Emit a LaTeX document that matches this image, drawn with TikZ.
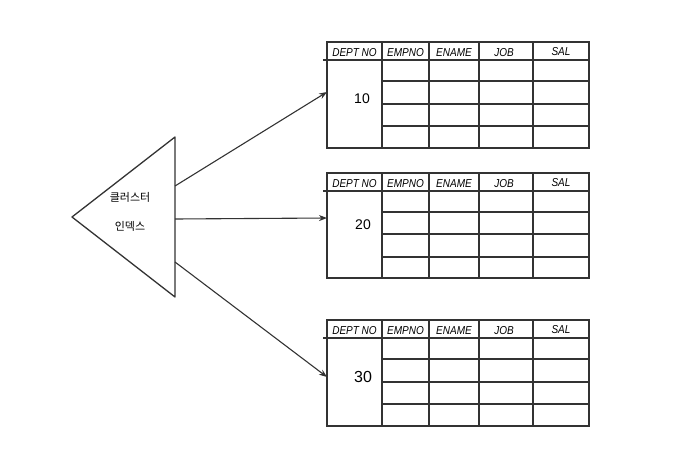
\documentclass[tikz,border=0pt]{standalone}
\usepackage{fontspec}
\setmainfont{Liberation Sans}
\newfontfamily\krfont{Noto Sans CJK KR}
\usetikzlibrary{arrows.meta}
\tikzset{
  ln/.style={draw=black!80, line width=1.3pt},
  hdr/.style={font=\fontsize{10}{10}\selectfont\itshape, inner sep=0pt, anchor=base, yscale=1.15},
  num/.style={font=\fontsize{14}{14}\selectfont, inner sep=0pt},
  kr/.style={font=\krfont\fontsize{11}{12}\selectfont, inner sep=0pt},
  arr/.style={draw=black!80, line width=1.1pt, -{Stealth[length=8pt,width=6pt]}}
}
\begin{document}
\begin{tikzpicture}[x=1pt,y=-1pt]
  \useasboundingbox (0,0) rectangle (688,450);
  % triangle
  \coordinate (tA) at (72,217);
  \coordinate (tT) at (175,137);
  \coordinate (tB) at (175,297);
  \draw[ln, line join=round] (tA) -- (tT) -- (tB) -- cycle;
  \node[kr] (k1) at (130,197) {클러스터};
  \node[kr] (k2) at (130,226) {인덱스};
  % table 1
  \begin{scope}
    \draw[ln] (327,42) rectangle (589,148);
    \draw[ln] (323,60) -- (589,60);
    \foreach \yy in {81,104,126} \draw[ln] (382,\yy) -- (589,\yy);
    \foreach \xx in {382,429,479,533} \draw[ln] (\xx,42) -- (\xx,148);
    \node[hdr] (h1a) at (354.5,56) {DEPT NO};
    \node[hdr] (h1b) at (405.5,56) {EMPNO};
    \node[hdr] (h1c) at (454,56) {ENAME};
    \node[hdr] (h1d) at (504,56) {JOB};
    \node[hdr] (h1e) at (561,55) {SAL};
    \node[num] (n10) at (362,99) {10};
    \coordinate (in1) at (327,92);
  \end{scope}
  % table 2
  \begin{scope}
    \draw[ln] (327,173) rectangle (589,278);
    \draw[ln] (323,191) -- (589,191);
    \foreach \yy in {212,234,257} \draw[ln] (382,\yy) -- (589,\yy);
    \foreach \xx in {382,429,479,533} \draw[ln] (\xx,173) -- (\xx,278);
    \node[hdr] (h2a) at (354.5,187) {DEPT NO};
    \node[hdr] (h2b) at (405.5,187) {EMPNO};
    \node[hdr] (h2c) at (454,187) {ENAME};
    \node[hdr] (h2d) at (504,187) {JOB};
    \node[hdr] (h2e) at (561,186) {SAL};
    \node[num] (n20) at (363,225) {20};
    \coordinate (in2) at (327,218);
  \end{scope}
  % table 3
  \begin{scope}
    \draw[ln] (327,320) rectangle (589,426);
    \draw[ln] (323,338) -- (589,338);
    \foreach \yy in {359,382,404} \draw[ln] (382,\yy) -- (589,\yy);
    \foreach \xx in {382,429,479,533} \draw[ln] (\xx,320) -- (\xx,426);
    \node[hdr] (h3a) at (354.5,334) {DEPT NO};
    \node[hdr] (h3b) at (405.5,334) {EMPNO};
    \node[hdr] (h3c) at (454,334) {ENAME};
    \node[hdr] (h3d) at (504,334) {JOB};
    \node[hdr] (h3e) at (561,333) {SAL};
    \node[num, font=\fontsize{16}{16}\selectfont] (n30) at (363,377) {30};
    \coordinate (in3) at (327,377);
  \end{scope}
  % arrows
  \coordinate (o1) at (175,186);
  \coordinate (o2) at (175,219);
  \coordinate (o3) at (175,262);
  \draw[arr] (o1) -- (in1);
  \draw[arr] (o2) -- (in2);
  \draw[arr] (o3) -- (in3);
\end{tikzpicture}
\end{document}
